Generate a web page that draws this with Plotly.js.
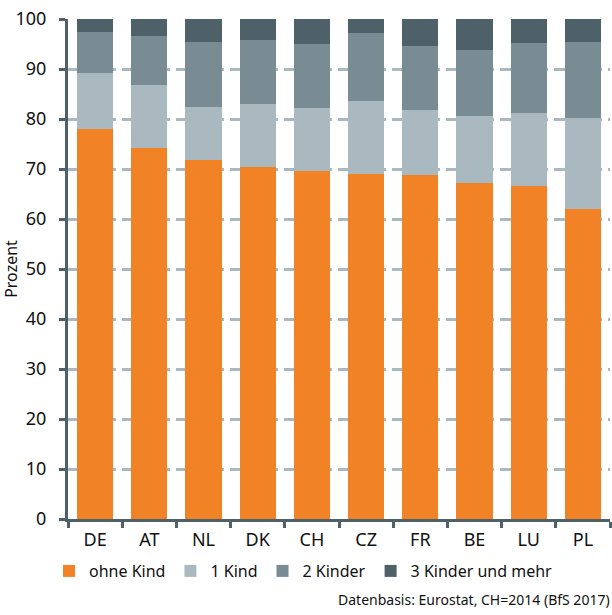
<!DOCTYPE html>
<html><head><meta charset="utf-8">
<script src="https://cdn.plot.ly/plotly-3.0.1.min.js"></script>
<style>body{margin:0;background:#fff}#chart{width:612px;height:615px}</style>
</head><body><div id="chart"></div>
<script>
const countries = ["DE","AT","NL","DK","CH","CZ","FR","BE","LU","PL"];
const ohneKind = [78.0,74.2,71.9,70.5,69.7,69.1,68.8,67.2,66.7,62.1];
const einKind = [11.3,12.7,10.6,12.5,12.5,14.6,13.1,13.5,14.6,18.2];
const zweiKinder = [8.2,9.8,13.0,12.8,12.9,13.6,12.8,13.2,14.0,15.2];
const dreiKinder = [2.5,3.3,4.5,4.2,4.9,2.7,5.3,6.1,4.7,4.5];
const seriesNames = ["ohne Kind","1 Kind","2 Kinder","3 Kinder und mehr"];
const colors = ["#F28226","#AAB8BF","#7A8C93","#4E6068"];
const yTicks = [0,10,20,30,40,50,60,70,80,90,100];

const vals = [ohneKind, einKind, zweiKinder, dreiKinder];
const traces = vals.map((v,i)=>({
  type:"bar", x:countries, y:v, name:seriesNames[i],
  marker:{color:colors[i], line:{width:0}},
  hoverinfo:"none"
}));
const font = "Noto Sans, Open Sans, sans-serif";
const layout = {
  width:612, height:615,
  margin:{l:68,r:2,t:19,b:96},
  barmode:"stack", bargap:0.33,
  paper_bgcolor:"#fff", plot_bgcolor:"#fff",
  font:{family:font, size:16, color:"#111"},
  showlegend:true,
  legend:{orientation:"h", x:-0.035, xanchor:"left", y:-0.07, yanchor:"top",
    font:{size:16, color:"#111"}, itemwidth:30, traceorder:"normal", tracegroupgap:0},
  xaxis:{type:"category", showline:true, linecolor:"#4E6068", linewidth:3,
    ticks:"outside", tickson:"boundaries", ticklen:6, tickwidth:3, tickcolor:"#4E6068",
    showgrid:false, tickfont:{size:18}, ticklabelstandoff:2},
  yaxis:{range:[0,100], tickvals:yTicks, showline:true, linecolor:"#4E6068", linewidth:3,
    ticks:"outside", ticklen:6, tickwidth:3, tickcolor:"#4E6068",
    showgrid:true, gridcolor:"#AAB8BF", gridwidth:3, griddash:"12px,6px",
    zeroline:false, tickfont:{size:18}, ticklabelstandoff:9,
    title:{text:"Prozent", font:{size:16}, standoff:2}},
  annotations:[{text:"Datenbasis: Eurostat, CH=2014 (BfS 2017)", xref:"paper", yref:"paper",
    x:1.003, y:-0.138, xanchor:"right", yanchor:"top", showarrow:false, font:{size:14, color:"#111"}}]
};
Plotly.newPlot("chart", traces, layout, {displayModeBar:false, staticPlot:true});
</script></body></html>
